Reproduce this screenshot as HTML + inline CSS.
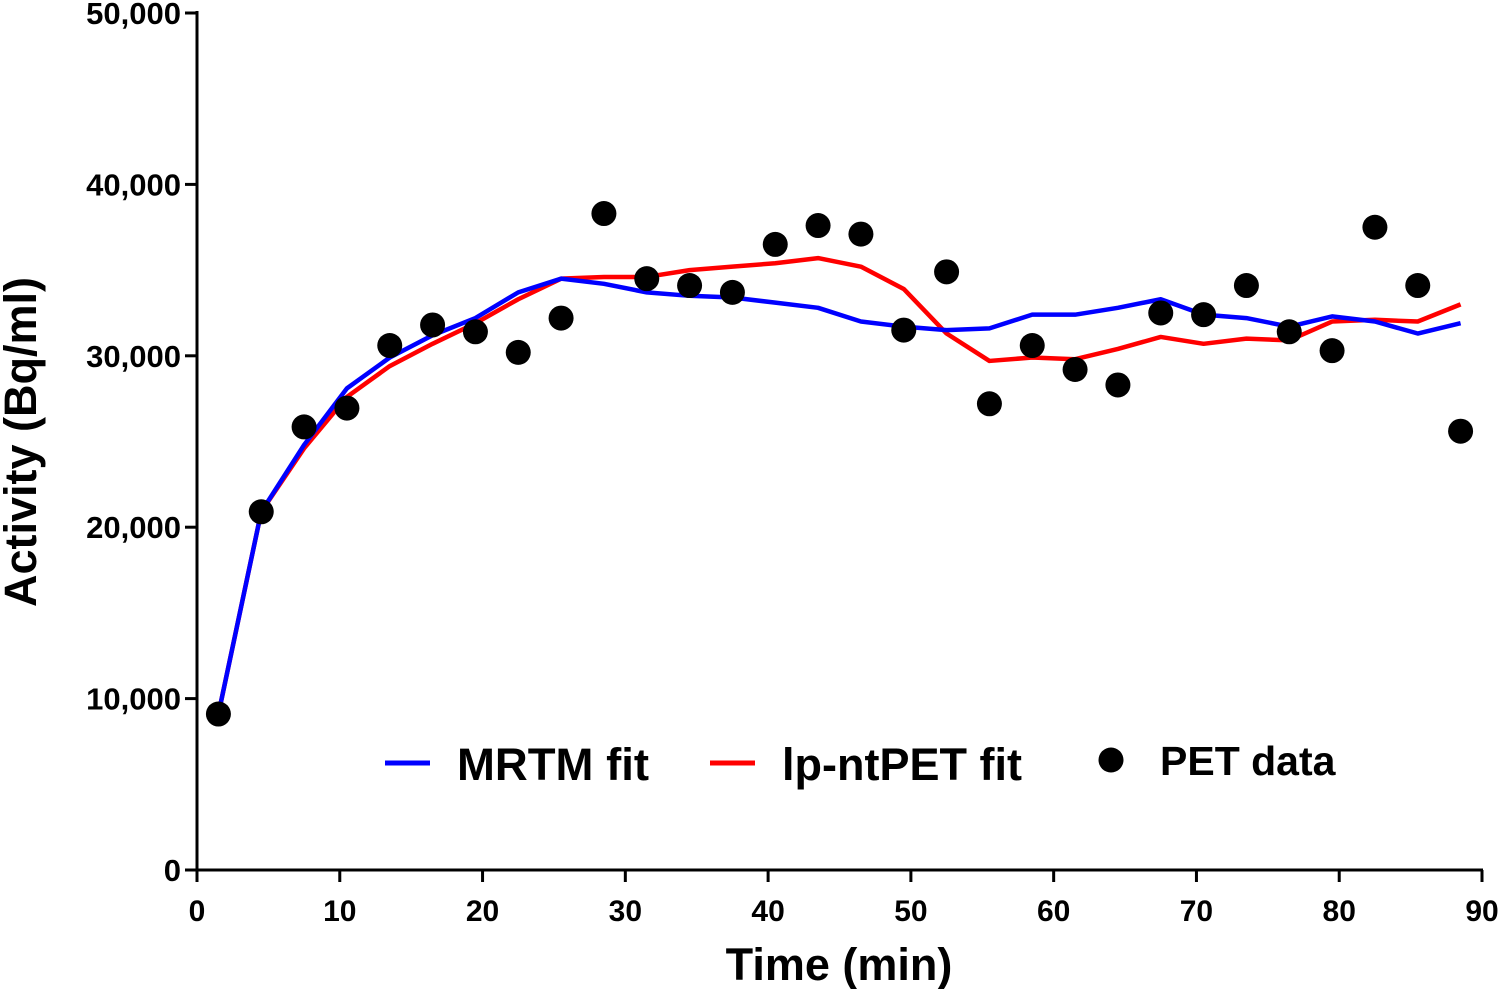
<!DOCTYPE html>
<html><head><meta charset="utf-8"><style>
body{margin:0;background:#fff;}
svg{display:block;font-family:"Liberation Sans",Arial,sans-serif;font-weight:bold;}
</style></head><body>
<svg id="chart" width="1500" height="989"></svg>
<script>
const times=[1.5,4.5,7.5,10.5,13.5,16.5,19.5,22.5,25.5,28.5,31.5,34.5,37.5,40.5,43.5,46.5,49.5,52.5,55.5,58.5,61.5,64.5,67.5,70.5,73.5,76.5,79.5,82.5,85.5,88.5];
const petData=[9100,20900,25850,26950,30600,31800,31400,30200,32200,38300,34500,34100,33700,36500,37600,37100,31500,34900,27200,30600,29200,28300,32500,32400,34100,31400,30300,37500,34100,25600];
const mrtmFit=[9100,20900,24800,28100,29900,31200,32200,33700,34500,34200,33700,33500,33400,33100,32800,32000,31700,31500,31600,32400,32400,32800,33300,32400,32200,31700,32300,32000,31300,31900];
const lpFit=[9100,20900,24600,27600,29400,30700,31900,33300,34500,34600,34600,35000,35200,35400,35700,35200,33900,31300,29700,29900,29800,30400,31100,30700,31000,30900,32000,32100,32000,33000];
const xTicks=[0,10,20,30,40,50,60,70,80,90];
const yTicks=[0,10000,20000,30000,40000,50000];
const yTickLabels=["0","10,000","20,000","30,000","40,000","50,000"];
const NS="http://www.w3.org/2000/svg";
const svg=document.getElementById('chart');
const X=v=>197+v*(1482-197)/90;
const Y=v=>870-v*(870-13)/50000;
function mk(t,a,p){const e=document.createElementNS(NS,t);for(const k in a)e.setAttribute(k,a[k]);(p||svg).appendChild(e);return e;}
let ax=mk('line',{x1:197,y1:870,x2:1483,y2:870,stroke:'#000','stroke-width':3});


let ay=mk('line',{x1:197,y1:11,x2:197,y2:871,stroke:'#000','stroke-width':3});


xTicks.forEach(v=>{
 const t=mk('line',{x1:X(v),y1:870,x2:X(v),y2:882,stroke:'#000','stroke-width':3});
 
 
 const l=mk('text',{x:X(v),y:921,'text-anchor':'middle','font-size':30});
 l.textContent=v;
 
 
});
yTicks.forEach((v,i)=>{
 const t=mk('line',{x1:185,y1:Y(v),x2:197,y2:Y(v),stroke:'#000','stroke-width':3});
 
 
 const l=mk('text',{x:181,y:Y(v)+11,'text-anchor':'end','font-size':31});
 l.textContent=yTickLabels[i];
 
 
});
const xt=mk('text',{x:839,y:980,'text-anchor':'middle','font-size':45});
xt.textContent='Time (min)';


const yt=mk('text',{x:0,y:0,'text-anchor':'middle','font-size':45,transform:'translate(36,442) rotate(-90)'});
yt.textContent='Activity (Bq/ml)';


const pts=arr=>arr.map((v,i)=>X(times[i])+','+Y(v)).join(' ');
const lr=mk('polyline',{points:pts(lpFit),fill:'none',stroke:'#ff0000','stroke-width':4.5,'stroke-linejoin':'round'});


const lb=mk('polyline',{points:pts(mrtmFit),fill:'none',stroke:'#0000ff','stroke-width':4.5,'stroke-linejoin':'round'});


petData.forEach((v,i)=>{
 const c=mk('circle',{cx:X(times[i]),cy:Y(v),r:12.5,fill:'#000'});
 
 
});
const g=mk('g',{});


const l1=mk('line',{x1:385,y1:763,x2:430,y2:763,stroke:'#0000ff','stroke-width':5},g);


const t1=mk('text',{x:457,y:780,'font-size':45.5},g);t1.textContent='MRTM fit';


const l2=mk('line',{x1:710,y1:763,x2:755,y2:763,stroke:'#ff0000','stroke-width':5},g);


const t2=mk('text',{x:782,y:780,'font-size':45},g);t2.textContent='lp-ntPET fit';


const c3=mk('circle',{cx:1111,cy:760,r:12.5,fill:'#000'},g);


const t3=mk('text',{x:1160,y:775,'font-size':41},g);t3.textContent='PET data';


</script>
</body></html>
